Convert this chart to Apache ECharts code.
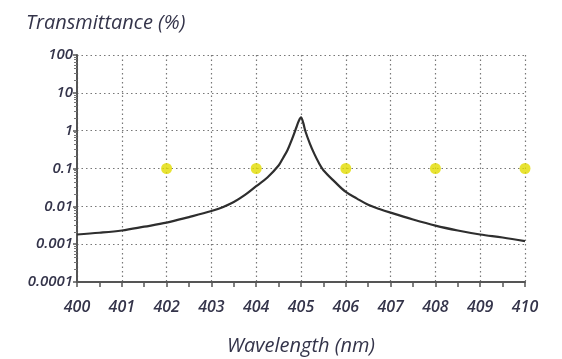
<!DOCTYPE html>
<html>
<head>
<meta charset="utf-8">
<script src="https://cdn.jsdelivr.net/npm/echarts@6/dist/echarts.min.js"></script>
<style>
html,body{margin:0;padding:0;background:#fff;}
#chart{width:562px;height:359px;}
</style>
</head>
<body>
<div id="chart"></div>
<script>
// Curve: wavelength (nm) and transmittance (%)
var waveX = [400, 400.5, 401, 401.5, 402, 402.5, 403, 403.25, 403.5, 403.75, 404, 404.25, 404.5, 404.6, 404.7, 404.8, 404.9, 404.95, 405,
             405.05, 405.1, 405.2, 405.3, 405.4, 405.5, 405.75, 406, 406.25, 406.5, 406.75, 407, 407.5, 408, 408.5, 409, 409.5, 410];
var transY = [0.0018, 0.002, 0.0023, 0.0029, 0.0037, 0.0052, 0.0075, 0.0095, 0.013, 0.02, 0.034, 0.058, 0.12, 0.19, 0.31, 0.6, 1.25, 1.8, 2.25,
              1.6, 0.95, 0.45, 0.24, 0.14, 0.09, 0.045, 0.024, 0.016, 0.011, 0.0085, 0.0068, 0.0045, 0.0031, 0.0023, 0.0018, 0.0015, 0.0012];
// Yellow marker points
var dotX = [402, 404, 406, 408, 410];
var dotY = [0.1, 0.1, 0.1, 0.1, 0.1];
// Axis labels
var yTickLabels = ['0.0001', '0.001', '0.01', '0.1', '1', '10', '100'];
var xTickLabels = ['400', '401', '402', '403', '404', '405', '406', '407', '408', '409', '410'];

var curveData = waveX.map(function (x, i) { return [x, transY[i]]; });
var dotData = dotX.map(function (x, i) { return [x, dotY[i]]; });

var labelColor = '#34344a';
var fontFam = '"Open Sans", Lato, sans-serif';
var chart = echarts.init(document.getElementById('chart'));
chart.setOption({
  animation: false,
  backgroundColor: '#ffffff',
  title: {
    text: 'Transmittance (%)',
    left: 21, top: 8,
    textStyle: { fontFamily: fontFam, fontStyle: 'italic', fontWeight: 'normal', fontSize: 20, color: labelColor }
  },
  grid: { left: 77, top: 55, right: 37, bottom: 77, containLabel: false, outerBoundsMode: 'none' },
  xAxis: {
    type: 'value', min: 400, max: 410, interval: 1,
    name: 'Wavelength (nm)', nameLocation: 'middle', nameGap: 54,
    nameTextStyle: { fontFamily: fontFam, fontStyle: 'italic', fontSize: 20, color: labelColor },
    axisLine: { show: true, lineStyle: { color: '#555', width: 2 } },
    axisTick: { show: true, length: 5, lineStyle: { color: '#555', width: 1.5 } },
    minorTick: { show: true, splitNumber: 2, length: 5, lineStyle: { color: '#555', width: 1.5 } },
    axisLabel: {
      margin: 17, fontFamily: fontFam, fontStyle: 'italic', fontWeight: 600, fontSize: 16, color: labelColor,
      formatter: function (v) { return xTickLabels[Math.round(v - 400)]; }
    },
    splitLine: { show: true, lineStyle: { color: '#777', type: [1.5, 3], width: 1.2 } }
  },
  yAxis: {
    type: 'log', logBase: 10, min: 0.0001, max: 100,
    axisLine: { show: true, lineStyle: { color: '#555', width: 2 } },
    axisTick: { show: true, inside: false, length: 4, lineStyle: { color: '#555', width: 1.5 } },
    minorTick: { show: true, splitNumber: 8, length: 3, lineStyle: { color: '#777', width: 1 } },
    axisLabel: {
      margin: 4, fontFamily: fontFam, fontStyle: 'italic', fontWeight: 600, fontSize: 15, color: labelColor,
      formatter: function (v) {
        var k = Math.round(Math.log10(v)) + 4;
        return yTickLabels[k];
      }
    },
    splitLine: { show: true, lineStyle: { color: '#777', type: [1.5, 3], width: 1.2 } }
  },
  series: [
    {
      type: 'line', data: curveData, showSymbol: false, symbol: 'none',
      smooth: 0.35,
      lineStyle: { color: '#2e2e2e', width: 2.2 }, z: 3
    },
    {
      type: 'scatter', data: dotData, symbol: 'circle', symbolSize: 11,
      itemStyle: { color: '#e2dc00' }, z: 4
    }
  ]
});
</script>
</body>
</html>
